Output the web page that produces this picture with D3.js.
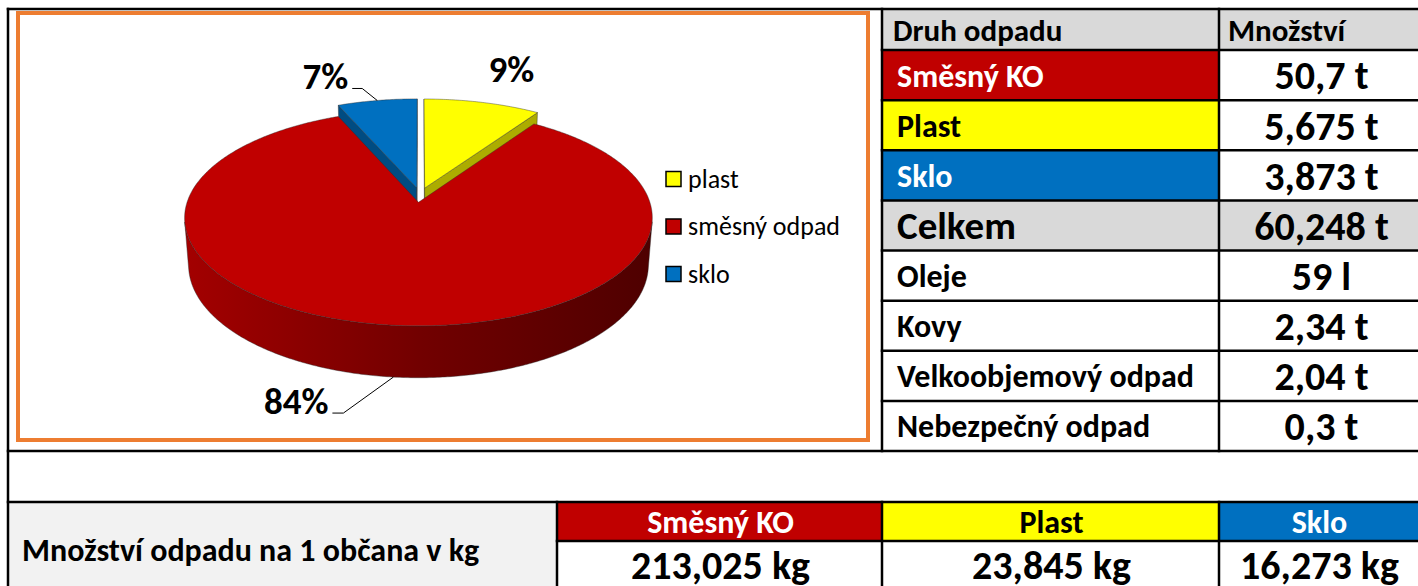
<!DOCTYPE html>
<html>
<head>
<meta charset="utf-8">
<script src="https://cdn.jsdelivr.net/npm/d3@7/dist/d3.min.js"></script>
<style>
  body { margin: 0; background: #fff; }
  svg { display: block; }
  text { font-family: Carlito, Lato, sans-serif; }
</style>
</head>
<body>
<svg id="chart"></svg>
<script>
// pie data (plast, směsný odpad, sklo)
const pieCategories = ["plast", "směsný odpad", "sklo"];
const pieValues = [5.675, 50.7, 3.873];
const pieLabels = ["9%", "84%", "7%"];
const pieColors = ["#ffff00", "#c00000", "#0070c0"];

// right table
const wasteTypes = ["Směsný KO", "Plast", "Sklo", "Celkem", "Oleje", "Kovy", "Velkoobjemový odpad", "Nebezpečný odpad"];
const wasteAmounts = ["50,7 t", "5,675 t", "3,873 t", "60,248 t", "59 l", "2,34 t", "2,04 t", "0,3 t"];
const rowFills = ["#c00000", "#ffff00", "#0070c0", "#d9d9d9", "#ffffff", "#ffffff", "#ffffff", "#ffffff"];
const rowTextColors = ["#ffffff", "#000000", "#ffffff", "#000000", "#000000", "#000000", "#000000", "#000000"];

// bottom table
const perCapitaTitle = "Množství odpadu na 1 občana v kg";
const perCapitaCategories = ["Směsný KO", "Plast", "Sklo"];
const perCapitaValues = ["213,025 kg", "23,845 kg", "16,273 kg"];
const perCapitaFills = ["#c00000", "#ffff00", "#0070c0"];
const perCapitaTextColors = ["#ffffff", "#000000", "#ffffff"];

const width = 1418, height = 586;
const svg = d3.select("#chart").attr("width", width).attr("height", height);

const x0 = 8, y0 = 9, headH = 41;
const colX = [882, 1219, 1418];
const lw = 2.5;

// ---------- right table ----------
const y = d3.scaleBand().domain(d3.range(wasteTypes.length)).range([y0 + headH, 451]);
const valueX = (colX[1] + colX[2]) / 2 + 3;

const tbl = svg.append("g");
// header
tbl.append("rect").attr("x", colX[0]).attr("y", y0).attr("width", colX[2] - colX[0]).attr("height", headH).attr("fill", "#d9d9d9");
tbl.append("text").attr("x", colX[0] + 11).attr("y", y0 + headH / 2).attr("dy", "0.36em")
  .style("font-size", "31px").style("font-weight", "bold").text("Druh odpadu");
tbl.append("text").attr("x", colX[1] + 9).attr("y", y0 + headH / 2).attr("dy", "0.36em")
  .style("font-size", "31px").style("font-weight", "bold").text("Množství");

const rows = tbl.selectAll("g.row").data(wasteTypes).enter().append("g").attr("class", "row");
rows.append("rect")
  .attr("x", colX[0]).attr("y", (d, i) => y(i))
  .attr("width", colX[1] - colX[0]).attr("height", y.bandwidth())
  .attr("fill", (d, i) => rowFills[i]);
rows.append("rect")
  .attr("x", colX[1]).attr("y", (d, i) => y(i))
  .attr("width", colX[2] - colX[1]).attr("height", y.bandwidth())
  .attr("fill", (d, i) => d === "Celkem" ? "#d9d9d9" : "#ffffff");
rows.append("text")
  .attr("x", colX[0] + 15).attr("y", (d, i) => y(i) + y.bandwidth() / 2).attr("dy", "0.36em")
  .style("font-size", d => d === "Celkem" ? "39px" : "32px").style("font-weight", "bold")
  .attr("fill", (d, i) => rowTextColors[i])
  .text(d => d);
rows.append("text")
  .attr("x", valueX).attr("y", (d, i) => y(i) + y.bandwidth() / 2).attr("dy", "0.36em")
  .attr("text-anchor", "middle")
  .style("font-size", "40px").style("font-weight", "bold")
  .text((d, i) => wasteAmounts[i]);

// ---------- bottom table ----------
const by = [502, 541, 590];
const bcols = [x0, 557, colX[0], colX[1], colX[2]];
const bot = svg.append("g");
bot.append("rect").attr("x", bcols[0]).attr("y", by[0]).attr("width", bcols[1] - bcols[0]).attr("height", by[2] - by[0]).attr("fill", "#f2f2f2");
bot.append("text").attr("x", 22).attr("y", 549).attr("dy", "0.36em")
  .style("font-size", "32px").style("font-weight", "bold").text(perCapitaTitle);
const bc = bot.selectAll("g.bc").data(perCapitaCategories).enter().append("g").attr("class", "bc");
bc.append("rect").attr("x", (d, i) => bcols[i + 1]).attr("y", by[0])
  .attr("width", (d, i) => bcols[i + 2] - bcols[i + 1]).attr("height", by[1] - by[0])
  .attr("fill", (d, i) => perCapitaFills[i]);
bc.append("text").attr("x", (d, i) => (bcols[i + 1] + bcols[i + 2]) / 2 + 1).attr("y", (by[0] + by[1]) / 2).attr("dy", "0.36em")
  .attr("text-anchor", "middle").style("font-size", "32px").style("font-weight", "bold")
  .attr("fill", (d, i) => perCapitaTextColors[i]).text(d => d);
bc.append("text").attr("x", (d, i) => (bcols[i + 1] + bcols[i + 2]) / 2 + 1).attr("y", 579)
  .attr("text-anchor", "middle").style("font-size", "40px").style("font-weight", "bold")
  .text((d, i) => perCapitaValues[i]);

// ---------- grid lines ----------
const lines = [
  [x0, y0, width, y0], [x0, 451, width, 451], [x0, 502, width, 502], [bcols[1], 541, width, 541],
  [x0, y0, x0, height], [colX[0], y0, colX[0], 451], [colX[1], y0, colX[1], 451],
  [bcols[1], 502, bcols[1], height], [colX[0], 502, colX[0], height], [colX[1], 502, colX[1], height]
];
d3.range(wasteTypes.length).forEach(i => lines.push([colX[0], y(i), width, y(i)]));
svg.append("g").selectAll("line").data(lines).enter().append("line")
  .attr("x1", d => d[0]).attr("y1", d => d[1]).attr("x2", d => d[2]).attr("y2", d => d[3])
  .attr("stroke", "#000").attr("stroke-width", lw).attr("stroke-linecap", "square");

// ---------- chart frame ----------
svg.append("rect").attr("x", 18).attr("y", 13).attr("width", 850).attr("height", 427)
  .attr("fill", "#fff").attr("stroke", "#ed7d31").attr("stroke-width", 4);

// ---------- 3D pie ----------
const cx = 420, cy = 195, f = 1432, D = 6.25, tilt = 26.9 * Math.PI / 180;
const thick = 0.23, explode = 0.07;
const sn = Math.sin(tilt), cs = Math.cos(tilt);
function proj(u, v, h) {
  const zc = D + v * cs - h * sn;
  return [cx + f * u / zc, cy - f * (h * cs + v * sn) / zc];
}
const arcs = d3.pie().sort(null).value(d => d)(pieValues);
const line = d3.line();
const defs = svg.append("defs");
const pieG = svg.append("g");

const slices = arcs.map((a, i) => {
  const mid = (a.startAngle + a.endAngle) / 2;
  return { a, i, mid, ou: explode * Math.sin(mid), ov: explode * Math.cos(mid) };
});
slices.sort((p, q) => q.ov - p.ov);

slices.forEach(sl => {
  const { a, i, ou, ov } = sl;
  const base = d3.color(pieColors[i]);
  const gid = "side" + i;
  const g = defs.append("linearGradient").attr("id", gid).attr("gradientUnits", "userSpaceOnUse")
    .attr("x1", cx - 240).attr("x2", cx + 240).attr("y1", 0).attr("y2", 0);
  g.append("stop").attr("offset", 0).attr("stop-color", base.darker(0.45));
  g.append("stop").attr("offset", 0.5).attr("stop-color", base.darker(1.45));
  g.append("stop").attr("offset", 1).attr("stop-color", base.darker(2.55));

  const n = Math.max(8, Math.ceil((a.endAngle - a.startAngle) / 0.01));
  const angs = d3.range(n + 1).map(k => a.startAngle + (a.endAngle - a.startAngle) * k / n);
  const rim = (t, h) => proj(ou + Math.sin(t), ov + Math.cos(t), h);
  const faceStyle = sel => sel.attr("stroke", "#2b2b2b").attr("stroke-width", 0.6).attr("stroke-opacity", 0.7).attr("stroke-linejoin", "round");

  // radial faces
  const camV = -D * cs;
  [[a.startAngle, -1], [a.endAngle, 1]].forEach(([t, sgn]) => {
    const nu = sgn * Math.cos(t), nv = -sgn * Math.sin(t);
    if (nu * (0 - ou) + nv * (camV - ov) > 0) {
      const pts = [proj(ou, ov, 0), rim(t, 0), rim(t, -thick), proj(ou, ov, -thick)];
      pieG.append("path").attr("d", line(pts) + "Z").attr("fill", base.darker(1.1)).call(faceStyle);
    }
  });

  // outer curved side, visible runs only
  const facing = t => -1 - ou * Math.sin(t) - Math.cos(t) * (D * cs + ov) > 0;
  let run = [];
  const runs = [];
  for (let k = 0; k < n; k++) {
    const tm = (angs[k] + angs[k + 1]) / 2;
    if (facing(tm)) {
      if (!run.length) run.push(angs[k]);
      run.push(angs[k + 1]);
    } else if (run.length) { runs.push(run); run = []; }
  }
  if (run.length) runs.push(run);
  runs.forEach(r => {
    const pts = r.map(t => rim(t, 0)).concat(r.slice().reverse().map(t => rim(t, -thick)));
    pieG.append("path").attr("d", line(pts) + "Z").attr("fill", `url(#${gid})`).call(faceStyle);
  });

  // top face
  const topPts = [proj(ou, ov, 0)].concat(angs.map(t => rim(t, 0)));
  pieG.append("path").attr("d", line(topPts) + "Z").attr("fill", base).call(faceStyle);
});

// data labels
const labelG = svg.append("g");
const labelOpts = [
  { h: 0, elbow: null, dx: 29, dy: -20 },
  { h: -thick, elbow: [-50, 36], dx: -11, dy: 0 },
  { h: 0, elbow: [-15, -12], dx: -10, dy: 0 }
];
slices.slice().sort((p, q) => p.i - q.i).forEach(sl => {
  const o = labelOpts[sl.i];
  const anchor = proj(sl.ou + Math.sin(sl.mid), sl.ov + Math.cos(sl.mid), o.h);
  if (o.elbow) {
    const e = [anchor[0] + o.elbow[0], anchor[1] + o.elbow[1]];
    const tail = [e[0] + o.dx, e[1]];
    labelG.append("path").attr("d", line([anchor, e, tail])).attr("fill", "none")
      .attr("stroke", "#000").attr("stroke-width", 1);
    labelG.append("text").attr("x", tail[0] - 4).attr("y", tail[1] + 1).attr("text-anchor", "end")
      .style("font-size", "37px").style("font-weight", "bold").text(pieLabels[sl.i]);
  } else {
    labelG.append("text").attr("x", anchor[0] + o.dx).attr("y", anchor[1] + o.dy).attr("text-anchor", "middle")
      .style("font-size", "37px").style("font-weight", "bold").text(pieLabels[sl.i]);
  }
});

// legend
const ly = d3.scalePoint().domain(pieCategories).range([179, 274]);
const leg = svg.append("g").selectAll("g").data(pieCategories).enter().append("g")
  .attr("transform", d => `translate(666,${ly(d)})`);
leg.append("rect").attr("x", 0).attr("y", -7.5).attr("width", 15).attr("height", 15)
  .attr("fill", (d, i) => pieColors[i]).attr("stroke", "#000").attr("stroke-width", 1.5);
leg.append("text").attr("x", 22).attr("y", 0).attr("dy", "0.33em")
  .style("font-size", "26px").text(d => d);
</script>
</body>
</html>
